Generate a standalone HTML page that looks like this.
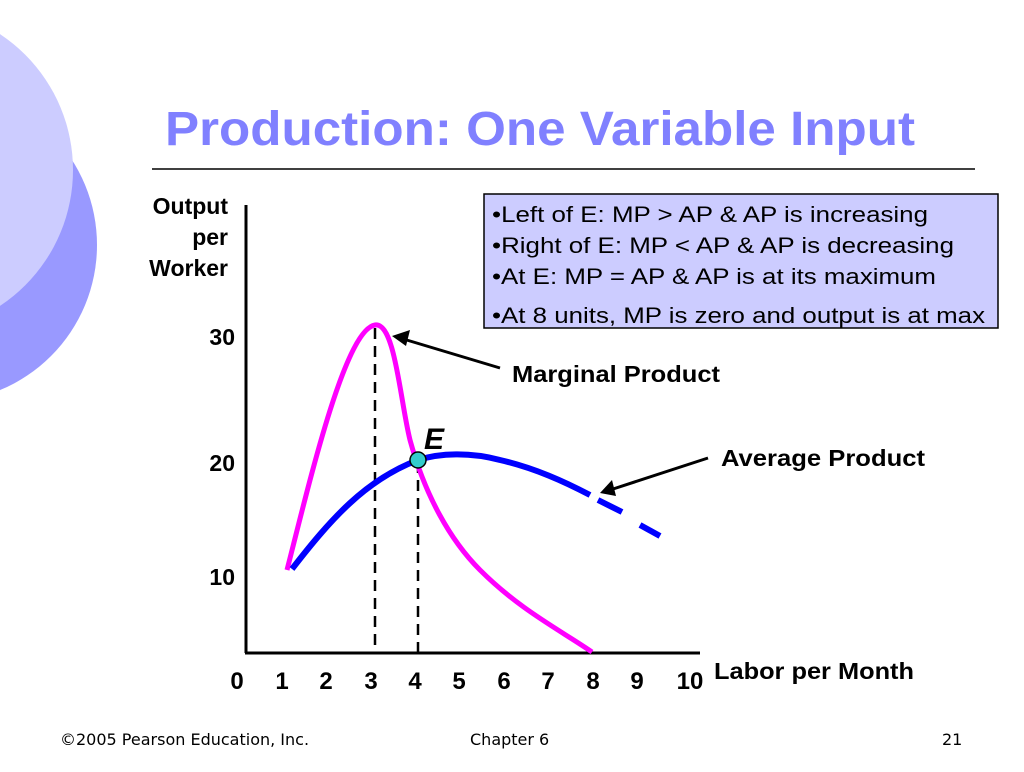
<!DOCTYPE html>
<html><head><style>
body{margin:0;width:1024px;height:767px;background:#fff;overflow:hidden;font-family:"Liberation Sans",sans-serif;}
</style></head><body>
<svg width="1024" height="767" viewBox="0 0 1024 767" xmlns="http://www.w3.org/2000/svg" font-family="Liberation Sans, sans-serif">
<circle cx="-60" cy="245" r="157" fill="#9999ff"/>
<circle cx="-90" cy="170" r="163" fill="#ccccff"/>
<text x="165" y="145" font-size="48" font-weight="bold" fill="#8080ff" textLength="750" lengthAdjust="spacingAndGlyphs">Production: One Variable Input</text>
<line x1="152" y1="169" x2="975" y2="169" stroke="#000" stroke-width="1.5"/>
<g font-size="23" font-weight="bold" text-anchor="end">
<text x="228" y="214">Output</text><text x="228" y="245">per</text><text x="228" y="276">Worker</text>
<text x="235" y="345">30</text><text x="235" y="471">20</text><text x="235" y="585">10</text>
</g>
<rect x="484" y="194" width="514" height="134" fill="#ccccff" stroke="#000" stroke-width="1.5"/>
<g font-size="22">
<text x="492" y="222" textLength="436" lengthAdjust="spacingAndGlyphs">•Left of E: MP &gt; AP &amp; AP is increasing</text>
<text x="492" y="253" textLength="462" lengthAdjust="spacingAndGlyphs">•Right of E: MP &lt; AP &amp; AP is decreasing</text>
<text x="492" y="284" textLength="444" lengthAdjust="spacingAndGlyphs">•At E: MP = AP &amp; AP is at its maximum</text>
<text x="492" y="323" textLength="493" lengthAdjust="spacingAndGlyphs">•At 8 units, MP is zero and output is at max</text>
</g>
<line x1="246" y1="205" x2="246" y2="653" stroke="#000" stroke-width="3"/>
<line x1="245" y1="653" x2="700" y2="653" stroke="#000" stroke-width="3"/>
<g stroke="#000" stroke-width="2.5" stroke-dasharray="11,7">
<line x1="375" y1="328" x2="375" y2="652"/><line x1="418" y1="462" x2="418" y2="652"/>
</g>
<path d="M287,570 C310,480 345,330 375,325 C395,322 400,400 410,440 C425,495 450,540 480,570 C520,610 560,630 592,652" fill="none" stroke="#ff00ff" stroke-width="5"/>
<path d="M292,569 C330,520 365,480 418,460 C440,453 470,452 500,460 C535,468 565,482 590,495" fill="none" stroke="#0000ff" stroke-width="6"/>
<line x1="598" y1="500" x2="622" y2="512" stroke="#0000ff" stroke-width="6"/>
<line x1="640" y1="525" x2="660" y2="536" stroke="#0000ff" stroke-width="6"/>
<circle cx="418" cy="460" r="8" fill="#33cccc" stroke="#000" stroke-width="1.5"/>
<text x="424" y="449" font-size="30" font-weight="bold" font-style="italic">E</text>
<g stroke="#000" stroke-width="3">
<line x1="500" y1="368" x2="400" y2="338"/><line x1="708" y1="458" x2="610" y2="490"/>
</g>
<polygon points="392,336 410,330 406,346" fill="#000"/>
<polygon points="600,493 612,480 616,496" fill="#000"/>
<g font-size="23" font-weight="bold">
<text x="512" y="382" textLength="208" lengthAdjust="spacingAndGlyphs">Marginal Product</text>
<text x="721" y="466" textLength="204" lengthAdjust="spacingAndGlyphs">Average Product</text>
<text x="714" y="679" textLength="200" lengthAdjust="spacingAndGlyphs">Labor per Month</text>
</g>
<g font-size="24" font-weight="bold" text-anchor="middle">
<text x="237" y="689">0</text><text x="282" y="689">1</text><text x="326" y="689">2</text><text x="371" y="689">3</text><text x="415" y="689">4</text><text x="459" y="689">5</text><text x="504" y="689">6</text><text x="548" y="689">7</text><text x="593" y="689">8</text><text x="637" y="689">9</text><text x="690" y="689">10</text>
</g>
<g font-size="16" font-family="DejaVu Sans, sans-serif">
<text x="60" y="745">©2005 Pearson Education, Inc.</text>
<text x="470" y="745">Chapter 6</text>
<text x="942" y="745">21</text>
</g>
</svg>
</body></html>
